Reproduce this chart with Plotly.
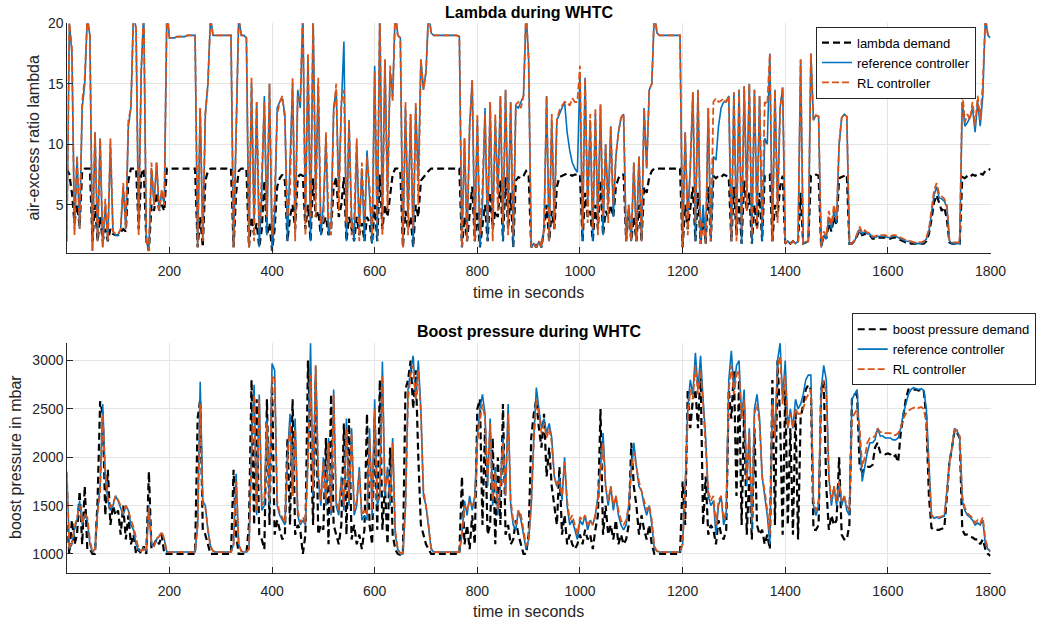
import plotly.graph_objects as go

time_s = list(range(0, 1801, 5))

lambda_demand = [
    8, 7.5, 6, 3.5, 5, 3.2, 7.8, 8, 8, 8, 2, 5, 2, 4, 2, 3, 2, 3, 2.6, 2.5,
    2.5, 2.8, 3, 2.8, 7, 8, 8, 8, 3, 7.5, 8, 2, 1.2, 5, 4.5, 6, 4.5, 5, 4.5, 8,
    8, 8, 8, 8, 8, 8, 8, 8, 8, 8, 8, 1.5, 4, 1.5, 7, 7.8, 8, 8, 8, 8,
    8, 8, 8, 8, 8, 1.5, 6, 7.8, 8, 8, 8, 1.5, 4, 2.5, 3.5, 1.5, 3, 7, 2.5, 3.5,
    1.2, 3, 6.5, 7.2, 7.5, 7, 2, 4, 5, 3, 7.3, 7.5, 7.4, 3, 5, 2, 7.2, 4, 4.5, 2.5,
    3.5, 4, 2.5, 3, 6.5, 7.3, 4, 5, 7.3, 2, 4, 3, 2, 4, 2.5, 3.5, 2, 4, 3.5, 1.8,
    5, 2, 7.5, 3, 5, 4, 6, 7.5, 8, 8, 7.8, 1.5, 4.5, 3, 4, 1.5, 5, 4, 7, 7.3,
    7.5, 7.8, 8, 8, 8, 8, 8, 8, 8, 8, 8, 8, 8, 8, 1.5, 4, 2, 4.5, 6.5, 2,
    4.5, 1.5, 3.5, 5, 2, 6, 3, 4.5, 4, 7, 2, 7.3, 3, 6, 1.5, 7, 7.3, 7.2, 7.4, 7.8,
    7.5, 1.5, 1.8, 1.5, 2, 1.5, 3, 5, 2, 4.5, 3, 6.5, 7.3, 7.4, 7.5, 7.6, 7.5, 7.4, 7.5, 7.5,
    7.5, 2, 6, 4, 4.5, 2, 5, 3, 7, 2.5, 4.5, 4, 5, 4, 6.5, 7.2, 7.5, 7.5, 2, 4.5,
    2, 4, 2, 5, 2, 6.5, 6, 7.3, 7.8, 8, 8, 8, 8, 8, 8, 8, 8, 8, 8, 8,
    1.5, 5, 3, 5, 6.5, 2, 6, 1.8, 4, 1.8, 6.5, 2, 7.4, 7.2, 7.4, 7.3, 7.5, 7.4, 7.3, 2,
    6.5, 2.5, 5.5, 1.8, 7, 4.5, 6, 1.8, 5, 3, 6, 2, 7.4, 7.4, 7.5, 2, 5, 4, 6.5, 7.4,
    1.8, 2, 1.8, 2, 1.8, 2, 6, 1.8, 1.9, 2, 7.4, 7.4, 7.5, 7.4, 1.5, 2.5, 2.2, 3.5, 2.8, 4,
    3.3, 7.2, 7.3, 7.4, 7.5, 1.8, 1.8, 2, 2.4, 2.9, 2.5, 2.6, 2.5, 2.5, 2.2, 2.2, 2.3, 2.3, 2.3, 2.3,
    2.2, 2.2, 2.3, 2.3, 2.2, 2.1, 2.0, 1.9, 1.9, 1.8, 1.8, 1.8, 1.8, 1.8, 1.8, 2.0, 2.6, 3.8, 5.2, 5.8,
    5.2, 4.5, 4.8, 3.8, 1.9, 1.8, 1.8, 1.8, 1.8, 7.3, 7.2, 7.4, 7.3, 7.5, 7.4, 7.5, 7.6, 7.5, 7.8, 7.8,
    8,
]

lambda_reference = [
    2, 20, 17.5, 3, 9, 3, 13, 15, 20.5, 19, 1.2, 11, 2, 10.5, 1.5, 5, 2, 10, 2.8, 2.5,
    2.5, 3, 6.5, 3, 11.5, 13, 21, 19.5, 3, 16, 21, 2, 1.2, 8, 5, 8.5, 4.5, 6, 5, 21,
    18.8, 18.8, 18.8, 18.9, 18.9, 18.9, 18.9, 19, 19, 19, 19, 1.5, 13, 2, 12.5, 15, 20.5, 19, 19, 19,
    19, 19, 19, 19, 19, 1.5, 12, 20.5, 19, 19, 18.8, 1.5, 15, 3.5, 13.5, 1.5, 6, 14, 2.5, 15,
    1.2, 4, 13, 13.5, 13.8, 12.5, 2, 8, 15, 3, 14.5, 13, 21, 4, 17, 2, 20.5, 6, 15, 2.5,
    5, 10.5, 2.5, 3.5, 13, 14.5, 6, 13, 18.5, 2, 12, 4, 2, 10, 3, 8, 2, 9.5, 5, 1.8,
    16.5, 2, 21, 4, 17, 6, 16, 14, 21, 19, 18.8, 1.5, 13, 4, 12.5, 1.5, 13, 7, 17, 14.5,
    16, 21, 19.2, 19, 19, 19, 19, 19, 19, 19, 19, 19, 19, 18.9, 1.5, 10.5, 2, 11.5, 15.3, 2,
    12, 1.5, 5, 13, 2, 13.5, 3, 12, 6, 14, 2, 14.5, 4, 13.5, 1.5, 13.2, 13, 13.5, 14, 21,
    17, 1.5, 1.8, 1.5, 2, 1.5, 3, 14, 2, 12, 4, 12, 12.5, 13, 13.5, 11, 9.5, 8.5, 8, 7.7,
    16, 2, 15.5, 5, 12, 2, 12.5, 3.5, 13.3, 2.5, 10, 5, 11.5, 4, 9, 11, 12.2, 12.5, 2, 5,
    2, 8.5, 2, 9, 2, 13, 8, 14.5, 15, 21, 19.2, 19, 19, 19, 19, 19, 19, 19, 19, 19,
    1.5, 11, 4, 8, 14.3, 2, 14.5, 1.8, 5, 1.8, 13, 2, 9, 8.7, 11.5, 13, 13.5, 13.5, 14, 2,
    14.3, 3, 14.5, 1.8, 14.8, 6, 15, 1.8, 14.5, 4, 14, 2, 10.5, 10, 17.5, 2, 14.5, 5, 13, 14.7,
    1.8, 2, 1.8, 2, 1.8, 2, 17, 1.8, 1.9, 2, 17.5, 12, 12.4, 12.3, 1.5, 2.5, 2.2, 4, 3, 4.5,
    3.5, 10, 12.2, 12.5, 12.3, 1.8, 1.8, 2, 2.5, 3, 2.6, 2.8, 2.6, 2.6, 2.3, 2.3, 2.4, 2.4, 2.4, 2.4,
    2.3, 2.3, 2.4, 2.4, 2.3, 2.2, 2.1, 2, 2, 1.9, 1.9, 1.8, 1.8, 1.8, 1.9, 2.2, 2.8, 4.2, 5.8, 6.5,
    5.6, 5.5, 5.3, 4.8, 2, 1.8, 1.8, 1.8, 1.8, 13.5, 11.5, 11.8, 12.2, 13, 11, 13.5, 11.5, 14, 20.5, 19,
    18.8,
]

lambda_rl = [
    2, 20, 18, 2.5, 9, 3, 13.5, 15.5, 20.5, 19, 1.2, 11, 2, 10.5, 1.5, 5.5, 2, 10.5, 2.8, 2.6,
    2.6, 3, 6.8, 3, 12, 13, 21, 19.5, 2.5, 16, 21, 2, 1.2, 8.5, 5, 8.5, 4.5, 6.3, 5, 21,
    18.8, 18.8, 18.8, 18.9, 18.9, 18.9, 18.9, 19, 19, 19, 19, 1.5, 13, 2, 12.5, 15, 20.5, 19, 19, 19,
    19, 19, 19, 19, 19, 1.5, 12.5, 20.5, 19, 19, 18.8, 1.5, 15.5, 2, 13.5, 3, 7.5, 13.5, 4, 15,
    2.5, 5.5, 12.5, 13.5, 14, 12, 4, 6, 15.5, 2, 14, 13.5, 21, 2.5, 17.5, 4, 20.5, 4, 15.5, 3.5,
    3.5, 11, 4, 2.5, 12.5, 15, 4.5, 13.5, 14.5, 3.5, 12, 2.5, 4, 10.5, 2, 8.5, 3.5, 9, 6.5, 2.5,
    16, 3.5, 21, 2.5, 17, 4.5, 16.5, 13.5, 21, 19, 18.8, 1.5, 13.5, 2.5, 12.5, 3, 13.5, 5, 17, 14.5,
    16, 21, 19.2, 19, 19, 19, 19, 19, 19, 19, 19, 19, 19, 18.9, 1.5, 10.5, 2, 11.5, 15.3, 2,
    12.5, 2.5, 6.5, 12.5, 3.5, 13.5, 2, 12.5, 4.5, 14, 3.5, 14.5, 2.5, 13.5, 2.5, 13.3, 13.5, 13, 14, 21,
    17, 1.5, 1.8, 1.5, 2, 1.5, 3, 14, 2, 12.5, 3, 12, 12.8, 13.2, 13.5, 13.5, 13.2, 13.8, 13.5, 13.5,
    16.5, 3, 15.5, 3.5, 12.5, 3, 13, 2.5, 13.3, 4, 10, 3.5, 11.5, 5, 9, 11, 12.2, 12.5, 2, 5,
    2, 8.5, 2, 9, 2, 13, 8, 14.5, 15, 21, 19.2, 19, 19, 19, 19, 19, 19, 19, 19, 19,
    1.5, 11, 2.5, 8.5, 14.3, 3.5, 14.5, 1.8, 3.5, 1.8, 13, 2, 13.5, 13.8, 13.5, 13.6, 13.8, 13.5, 14, 2,
    14.3, 2, 14.5, 3, 14.8, 4.5, 15, 2.5, 14.5, 3, 14, 3.5, 13.5, 13.3, 17.5, 2, 14.5, 3.5, 13, 14.7,
    1.8, 2, 1.8, 2, 1.8, 2, 17, 1.8, 1.9, 2, 17.5, 12, 12.4, 12.3, 1.5, 2.8, 2.4, 4.5, 3.3, 5,
    3.8, 10, 12.2, 12.5, 12.3, 1.8, 1.8, 2.1, 2.6, 3.2, 2.7, 2.9, 2.7, 2.7, 2.4, 2.4, 2.5, 2.5, 2.5, 2.5,
    2.4, 2.4, 2.5, 2.5, 2.4, 2.3, 2.2, 2.1, 2, 2, 1.9, 1.9, 1.9, 1.9, 2, 2.3, 3, 4.5, 6.2, 6.8,
    5.9, 5.7, 5.5, 5, 2.1, 1.9, 1.9, 1.9, 1.9, 14.5, 11.8, 12.5, 12, 13.5, 11.5, 14, 12, 15, 20.5, 19,
    18.9,
]

boost_demand = [
    1300, 1000, 1350, 1100, 1200, 1650, 1100, 1700, 1050, 1050, 1000, 1000, 1550, 2580, 2450, 1400, 1870, 1300, 1500, 1400,
    1450, 1200, 1500, 1150, 1400, 1100, 1200, 1000, 1050, 1000, 1080, 1000, 1850, 1050, 1100, 1150, 1100, 1200, 1000, 1000,
    1000, 1000, 1000, 1000, 1000, 1000, 1000, 1000, 1000, 1000, 1000, 2400, 2600, 1250, 1200, 1100, 1000, 1000, 1000, 1000,
    1000, 1000, 1000, 1000, 1000, 1870, 1200, 1000, 1000, 1000, 1000, 1300, 2800, 1300, 2600, 1200, 1150, 1050, 2600, 1300,
    2800, 1200, 1350, 1250, 1150, 1200, 2200, 1300, 2600, 1200, 1300, 1250, 1000, 1200, 3000, 2200, 1300, 2800, 1200, 1300,
    1250, 2200, 1100, 2650, 1300, 1200, 1100, 1300, 2350, 1200, 2400, 1150, 1300, 1100, 1200, 1050, 1250, 2450, 1300, 1100,
    2400, 1250, 2800, 1250, 1700, 1100, 2100, 1200, 1050, 1000, 990, 1000, 2700, 2800, 3000, 2500, 2900, 2000, 1300, 1200,
    1100, 1050, 1000, 1000, 1000, 1000, 1000, 1000, 1000, 1000, 1000, 1000, 1000, 1000, 1800, 1100, 1300, 1050, 1400, 1100,
    2500, 2600, 1300, 2300, 1200, 1300, 2200, 1100, 2000, 1300, 2550, 1200, 1300, 1100, 1150, 1350, 1200, 1100, 1000, 1000,
    1200, 2200, 2450, 2600, 2300, 2100, 2450, 1800, 2100, 1700, 1500, 1300, 1900, 1200, 1400, 1100, 1200, 1100, 1050, 1100,
    1200, 1100, 1250, 1150, 1200, 1050, 1250, 1400, 2500, 1200, 1500, 1200, 1300, 1150, 1350, 1100, 1200, 1100, 1150, 1300,
    2150, 1700, 1500, 1200, 1400, 1250, 1150, 1300, 1100, 1000, 1000, 1000, 1000, 1000, 1000, 1000, 1000, 1000, 1000, 1000,
    1750, 1300, 2700, 2300, 2600, 2700, 2300, 2900, 1300, 1800, 1200, 1300, 1250, 1100, 1350, 1200, 1150, 1250, 2700, 2400,
    2900, 1600, 2800, 1300, 2500, 1200, 1800, 1150, 2300, 1300, 1200, 1250, 1100, 1200, 1050, 2800, 1300, 3000, 2400, 1200,
    2700, 1300, 2300, 1200, 2500, 1150, 2400, 2550, 2700, 2750, 2700, 1250, 1250, 1300, 2700, 2800, 1700, 1250, 1400, 1300,
    1350, 2000, 1200, 1150, 1150, 1300, 2600, 2650, 2650, 1900, 1850, 1880, 1900, 1900, 1920, 2100, 2150, 2050, 2050, 2030,
    2040, 2030, 2000, 2020, 1950, 2250, 2450, 2600, 2700, 2700, 2700, 2700, 2690, 2700, 2690, 2400, 1600, 1270, 1250, 1250,
    1250, 1260, 1270, 1600, 1950, 2100, 2280, 2250, 2200, 1250, 1200, 1200, 1180, 1170, 1150, 1150, 1100, 1150, 1050, 1000,
    980,
]

boost_reference = [
    1850, 1050, 1100, 1250, 1350, 1550, 1300, 1400, 1350, 1100, 1020, 1050, 1450, 1700, 2550, 1800, 1550, 1450, 1500, 1600,
    1550, 1480, 1400, 1500, 1450, 1300, 1250, 1100, 1040, 1030, 1060, 1030, 1500, 1100, 1080, 1150, 1180, 1220, 1150, 1020,
    1020, 1020, 1020, 1020, 1020, 1020, 1020, 1020, 1020, 1020, 1020, 1300, 2780, 1550, 1500, 1250, 1080, 1030, 1020, 1020,
    1020, 1020, 1020, 1020, 1020, 1100, 1830, 1100, 1030, 1020, 1020, 1050, 2100, 2750, 1400, 2650, 1450, 1500, 2400, 1500,
    2970, 2900, 1500, 1400, 1350, 1300, 2000, 2450, 1600, 2400, 1400, 1300, 1350, 1300, 2000, 3180, 1600, 2950, 1800, 1500,
    2000, 1500, 2200, 1400, 2700, 1500, 1400, 1800, 1450, 2400, 1500, 2300, 1400, 1500, 1900, 1350, 1400, 1350, 2300, 1400,
    2600, 1500, 1600, 2990, 1600, 1900, 1500, 2200, 1200, 1050, 1000, 1000, 1500, 2700, 2900, 3050, 2600, 3000, 2500, 1600,
    1500, 1300, 1050, 1020, 1020, 1020, 1020, 1020, 1020, 1020, 1020, 1020, 1020, 1020, 1200, 1550, 1400, 1600, 1450, 1600,
    2200, 2500, 2650, 2450, 1700, 2400, 1500, 1900, 1400, 1700, 2200, 1600, 2550, 1500, 1300, 1250, 1450, 1350, 1200, 1050,
    1150, 1500, 2200, 2720, 2500, 2300, 2400, 2250, 2350, 2200, 1800, 1700, 1800, 1550, 2000, 1500, 1300, 1350, 1250, 1150,
    1350, 1300, 1400, 1250, 1350, 1300, 1400, 1600, 1900, 2250, 1700, 1500, 1700, 1450, 1600, 1400, 1300, 1250, 1300, 1500,
    1900, 2150, 1900, 1700, 1650, 1500, 1400, 1500, 1300, 1050, 1030, 1020, 1020, 1020, 1020, 1020, 1020, 1020, 1020, 1020,
    1100, 1700, 2500, 2800, 2650, 3080, 2700, 3050, 2600, 2200, 1600, 1500, 1550, 1200, 1500, 1600, 1300, 1400, 2800, 3100,
    2700, 2950, 3000, 2400, 2700, 1700, 2300, 1250, 2500, 2650, 2400, 1800, 1600, 1400, 1100, 2600, 2200, 3000, 3180, 2600,
    3000, 2300, 2500, 2300, 2600, 2500, 2550, 2650, 2800, 2850, 2850, 1500, 1400, 1500, 2700, 2950, 2800, 1800, 1500, 1700,
    1500, 1750, 1500, 1600, 1450, 1400, 2600, 2650, 2700, 2200, 1750, 1900, 2050, 2150, 2150, 2180, 2300, 2220, 2220, 2200,
    2200, 2200, 2180, 2180, 2200, 2300, 2450, 2550, 2650, 2700, 2720, 2710, 2700, 2710, 2690, 2500, 1900, 1400, 1370, 1380,
    1370, 1380, 1390, 1650, 1950, 2100, 2300, 2270, 2200, 1550, 1450, 1400, 1380, 1350, 1300, 1320, 1300, 1350, 1100, 1050,
    1020,
]

boost_rl = [
    1850, 1050, 1120, 1280, 1380, 1500, 1320, 1420, 1380, 1150, 1020, 1050, 1420, 1650, 2450, 1850, 1580, 1480, 1520, 1600,
    1560, 1500, 1420, 1500, 1450, 1350, 1280, 1150, 1050, 1030, 1050, 1030, 1480, 1120, 1080, 1160, 1180, 1230, 1150, 1020,
    1020, 1020, 1020, 1020, 1020, 1020, 1020, 1020, 1020, 1020, 1020, 1300, 2550, 1500, 1480, 1250, 1080, 1030, 1020, 1020,
    1020, 1020, 1020, 1020, 1020, 1100, 1750, 1100, 1030, 1020, 1020, 1050, 2000, 2650, 1450, 2600, 1500, 1550, 2350, 1550,
    2850, 2800, 1550, 1420, 1380, 1320, 1950, 2350, 1600, 2300, 1450, 1320, 1380, 1320, 1950, 2850, 1650, 2950, 1850, 1550,
    1950, 1550, 2150, 1450, 2650, 1550, 1450, 1750, 1500, 2300, 1550, 2250, 1450, 1550, 1850, 1400, 1450, 1400, 2200, 1450,
    2500, 1550, 1650, 2850, 1650, 1850, 1550, 2150, 1250, 1050, 1010, 1010, 1500, 2600, 2850, 2950, 2600, 2900, 2450, 1650,
    1500, 1300, 1060, 1020, 1020, 1020, 1020, 1020, 1020, 1020, 1020, 1020, 1020, 1020, 1200, 1500, 1450, 1550, 1500, 1550,
    2150, 2400, 2550, 2400, 1750, 2350, 1550, 1850, 1450, 1700, 2150, 1600, 2450, 1550, 1350, 1300, 1450, 1400, 1250, 1080,
    1150, 1500, 2150, 2600, 2450, 2250, 2350, 2200, 2300, 2150, 1800, 1700, 1750, 1600, 1950, 1550, 1350, 1400, 1300, 1200,
    1380, 1350, 1400, 1300, 1350, 1300, 1400, 1550, 1850, 2150, 1700, 1550, 1700, 1500, 1600, 1450, 1350, 1300, 1350, 1500,
    1850, 2050, 1900, 1750, 1650, 1550, 1450, 1500, 1350, 1080, 1030, 1020, 1020, 1020, 1020, 1020, 1020, 1020, 1020, 1020,
    1100, 1650, 2400, 2700, 2600, 2950, 2650, 2900, 2550, 2150, 1650, 1550, 1600, 1300, 1550, 1600, 1350, 1450, 2700, 2950,
    2650, 2850, 2900, 2400, 2600, 1750, 2250, 1350, 2450, 2550, 2350, 1800, 1650, 1450, 1200, 2550, 2200, 2900, 3050, 2550,
    2850, 2300, 2450, 2300, 2500, 2450, 2450, 2500, 2600, 2650, 2700, 1550, 1450, 1550, 2600, 2800, 2650, 1800, 1550, 1700,
    1550, 1750, 1550, 1600, 1500, 1450, 2400, 2450, 2500, 2300, 1900, 2000, 2150, 2200, 2200, 2220, 2300, 2260, 2260, 2250,
    2250, 2250, 2230, 2230, 2250, 2300, 2400, 2450, 2480, 2500, 2510, 2520, 2510, 2520, 2500, 2350, 1850, 1400, 1380, 1380,
    1380, 1390, 1400, 1650, 1950, 2100, 2280, 2280, 2220, 1600, 1480, 1420, 1400, 1370, 1320, 1350, 1320, 1380, 1150, 1060,
    1030,
]

x_ticks = [200, 400, 600, 800, 1000, 1200, 1400, 1600, 1800]
lambda_ticks = [5, 10, 15, 20]
boost_ticks = [1000, 1500, 2000, 2500, 3000]

for arr in (lambda_demand, lambda_reference, lambda_rl, boost_demand, boost_reference, boost_rl):
    assert len(arr) == len(time_s), len(arr)

BLUE = "#0072BD"
ORANGE = "#D95319"
FONT = "Liberation Sans, Arial, Helvetica, sans-serif"
AX = "#262626"
GRID = "#e5e5e5"

fig = go.Figure()

def add(y, name, color, width, dash, xa, ya, leg):
    fig.add_trace(go.Scatter(
        x=time_s, y=y, mode="lines", name=name,
        line=dict(color=color, width=width, dash=dash),
        xaxis=xa, yaxis=ya, legend=leg,
    ))

add(lambda_demand, "lambda demand", "black", 2.2, "7px,4px", "x", "y", "legend")
add(lambda_reference, "reference controller", BLUE, 1.6, "solid", "x", "y", "legend")
add(lambda_rl, "RL controller", ORANGE, 1.8, "7px,3px", "x", "y", "legend")
add(boost_demand, "boost pressure demand", "black", 2.2, "7px,4px", "x2", "y2", "legend2")
add(boost_reference, "reference controller", BLUE, 1.6, "solid", "x2", "y2", "legend2")
add(boost_rl, "RL controller", ORANGE, 1.8, "7px,3px", "x2", "y2", "legend2")

W, H = 1037, 623
xl, xr = 67.3 / W, 990.5 / W

axis_common = dict(
    showline=True, linecolor=AX, linewidth=1, mirror=False,
    ticks="inside", ticklen=6, tickcolor=AX, tickwidth=1,
    showgrid=True, gridcolor=GRID, gridwidth=1, zeroline=False,
    automargin=False,
    tickfont=dict(family=FONT, size=14, color=AX),
)

fig.update_layout(
    width=W, height=H, autosize=False,
    margin=dict(l=0, r=0, t=0, b=0, autoexpand=False),
    paper_bgcolor="white", plot_bgcolor="white",
    font=dict(family=FONT, color=AX),
    xaxis=dict(domain=[xl, xr], anchor="y", range=[1, 1800], tickvals=x_ticks,
               ticklabelstandoff=5, **axis_common),
    yaxis=dict(domain=[1 - 253.3 / H, 1 - 23.3 / H], anchor="x", range=[1, 20], tickvals=lambda_ticks, **axis_common),
    xaxis2=dict(domain=[xl, xr], anchor="y2", range=[1, 1800], tickvals=x_ticks,
                ticklabelstandoff=5, **axis_common),
    yaxis2=dict(domain=[1 - 573.3 / H, 1 - 342.7 / H], anchor="x2", range=[800, 3185], tickvals=boost_ticks, **axis_common),
    legend=dict(x=816 / W, y=1 - 26.7 / H, xanchor="left", yanchor="top",
                bgcolor="white", bordercolor=AX, borderwidth=1,
                font=dict(family=FONT, size=13, color="black"), tracegroupgap=0),
    legend2=dict(x=851.7 / W, y=1 - 313.3 / H, xanchor="left", yanchor="top",
                 bgcolor="white", bordercolor=AX, borderwidth=1,
                 font=dict(family=FONT, size=13, color="black"), tracegroupgap=0),
    showlegend=True,
)

xc = (67.3 + 990.5) / 2 / W
ann = [
    dict(text="<b>Lambda during WHTC</b>", x=xc, y=1 - 12.7 / H, size=16, angle=0),
    dict(text="<b>Boost pressure during WHTC</b>", x=xc, y=1 - 331.7 / H, size=16, angle=0),
    dict(text="time in seconds", x=xc, y=1 - 292.7 / H, size=16, angle=0),
    dict(text="time in seconds", x=xc, y=1 - 611.5 / H, size=16, angle=0),
    dict(text="air-excess ratio lambda", x=33 / W, y=1 - 137.5 / H, size=16, angle=-90),
    dict(text="boost pressure in mbar", x=15.5 / W, y=1 - 457.5 / H, size=16, angle=-90),
]
for a in ann:
    fig.add_annotation(
        text=a["text"], x=a["x"], y=a["y"], xref="paper", yref="paper",
        xanchor="center", yanchor="middle", showarrow=False, textangle=a["angle"],
        font=dict(family=FONT, size=a["size"], color="black" if "<b>" in a["text"] else AX),
    )

fig.write_html("out.html")
